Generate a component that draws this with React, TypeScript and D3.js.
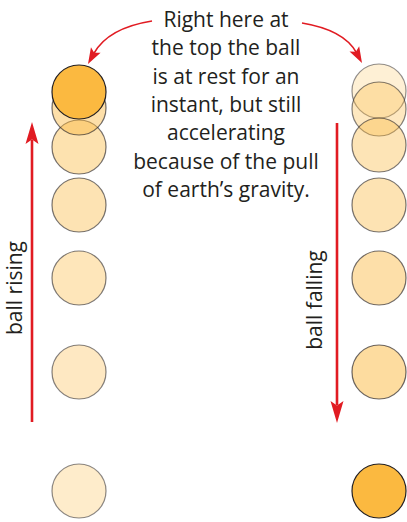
import React, { useEffect, useRef } from "react";
import * as d3 from "d3";

// distance below the top position (px-ish units), listed bottom -> top for rising, top -> bottom for falling
const risingDrop = [399, 280, 186, 113, 55, 16, 0];
const risingShade = [0.27, 0.32, 0.36, 0.4, 0.42, 0.45, 1];
const fallingDrop = [-1, 17, 53, 113, 186, 280, 399];
const fallingShade = [0.22, 0.33, 0.38, 0.4, 0.45, 0.5, 1];

const noteLines = [
  "Right here at",
  "the top the ball",
  "is at rest for an",
  "instant, but still",
  "accelerating",
  "because of the pull",
  "of earth\u2019s gravity.",
];
const sideLabels = ["ball rising", "ball falling"];

const RED = "#e11b22";
const BALL = "#fbb940";
const INK = "#231f20";

export default function App() {
  const ref = useRef<SVGSVGElement>(null);

  useEffect(() => {
    if (!ref.current) return;
    const width = 407;
    const height = 522;

    const svg = d3.select(ref.current);
    svg.selectAll("*").remove();
    svg.attr("width", width).attr("height", height);

    svg.append("rect").attr("width", width).attr("height", height).attr("fill", "#fff");

    const y = d3.scaleLinear().domain([0, 399]).range([92, 491]);
    const col = d3.scalePoint().domain(["rise", "fall"]).range([79, 379]);
    const xRise = col("rise")!;
    const xFall = col("fall")!;
    const r = 27;

    const drawBalls = (drops: number[], shades: number[], cx: number) => {
      svg.append("g")
        .selectAll("circle")
        .data(drops.map((d, i) => ({ d, a: shades[i] })))
        .enter()
        .append("circle")
        .attr("cx", cx)
        .attr("cy", (p) => y(p.d))
        .attr("r", r)
        .attr("fill", BALL)
        .attr("fill-opacity", (p) => p.a)
        .attr("stroke", INK)
        .attr("stroke-width", 1.2)
        .attr("stroke-opacity", (p) => Math.min(1, 0.35 + 0.65 * p.a));
    };
    drawBalls(risingDrop, risingShade, xRise);
    drawBalls(fallingDrop, fallingShade, xFall);

    // arrowhead helper: tip point and direction vector
    const head = (tx: number, ty: number, dx: number, dy: number, len = 22, half = 6.5) => {
      const n = Math.hypot(dx, dy);
      const ux = dx / n, uy = dy / n;
      const px = -uy, py = ux;
      const bx = tx - ux * len, by = ty - uy * len;
      const nx = tx - ux * len * 0.8, ny = ty - uy * len * 0.8;
      return `M${tx},${ty}L${bx + px * half},${by + py * half}L${nx},${ny}L${bx - px * half},${by - py * half}Z`;
    };

    // vertical arrows
    const arrows = svg.append("g");
    const riseX = 32, fallX = 337;
    arrows.append("line").attr("x1", riseX).attr("x2", riseX).attr("y1", 422).attr("y2", 140)
      .attr("stroke", RED).attr("stroke-width", 2.6);
    arrows.append("path").attr("d", head(riseX, 122, 0, -1)).attr("fill", RED);
    arrows.append("line").attr("x1", fallX).attr("x2", fallX).attr("y1", 123).attr("y2", 405)
      .attr("stroke", RED).attr("stroke-width", 2.6);
    arrows.append("path").attr("d", head(fallX, 423, 0, 1)).attr("fill", RED);

    // curved pointers from the note
    const curves = [
      { s: [152, 21], c: [108, 28], e: [88, 64] },
      { s: [302, 23], c: [344, 30], e: [362, 63] },
    ];
    curves.forEach((k) => {
      const ux = k.e[0] - k.c[0], uy = k.e[1] - k.c[1];
      const n = Math.hypot(ux, uy);
      const endX = k.e[0] - (ux / n) * 12, endY = k.e[1] - (uy / n) * 12;
      arrows.append("path")
        .attr("d", `M${k.s[0]},${k.s[1]}Q${k.c[0]},${k.c[1]} ${endX},${endY}`)
        .attr("fill", "none").attr("stroke", RED).attr("stroke-width", 1.6);
      arrows.append("path").attr("d", head(k.e[0], k.e[1], ux, uy, 16, 5.5)).attr("fill", RED);
    });

    // note text
    const note = svg.append("text")
      .attr("text-anchor", "middle")
      .attr("font-family", "'Open Sans', sans-serif")
      .attr("font-size", 21)
      .attr("fill", INK);
    noteLines.forEach((t, i) => {
      note.append("tspan").attr("x", 226).attr("y", 27 + i * 28.3).text(t);
    });

    // side labels
    const labelPos = [
      { x: 22, y: 288 },
      { x: 322, y: 300 },
    ];
    sideLabels.forEach((t, i) => {
      svg.append("text")
        .attr("transform", `translate(${labelPos[i].x},${labelPos[i].y}) rotate(-90)`)
        .attr("text-anchor", "middle")
        .attr("font-family", "'Open Sans', sans-serif")
        .attr("font-size", 21)
        .attr("fill", INK)
        .text(t);
    });
  }, []);

  return (
    <svg
      ref={ref}
      style={{ position: "absolute", left: 0, top: 0, display: "block" }}
    />
  );
}
